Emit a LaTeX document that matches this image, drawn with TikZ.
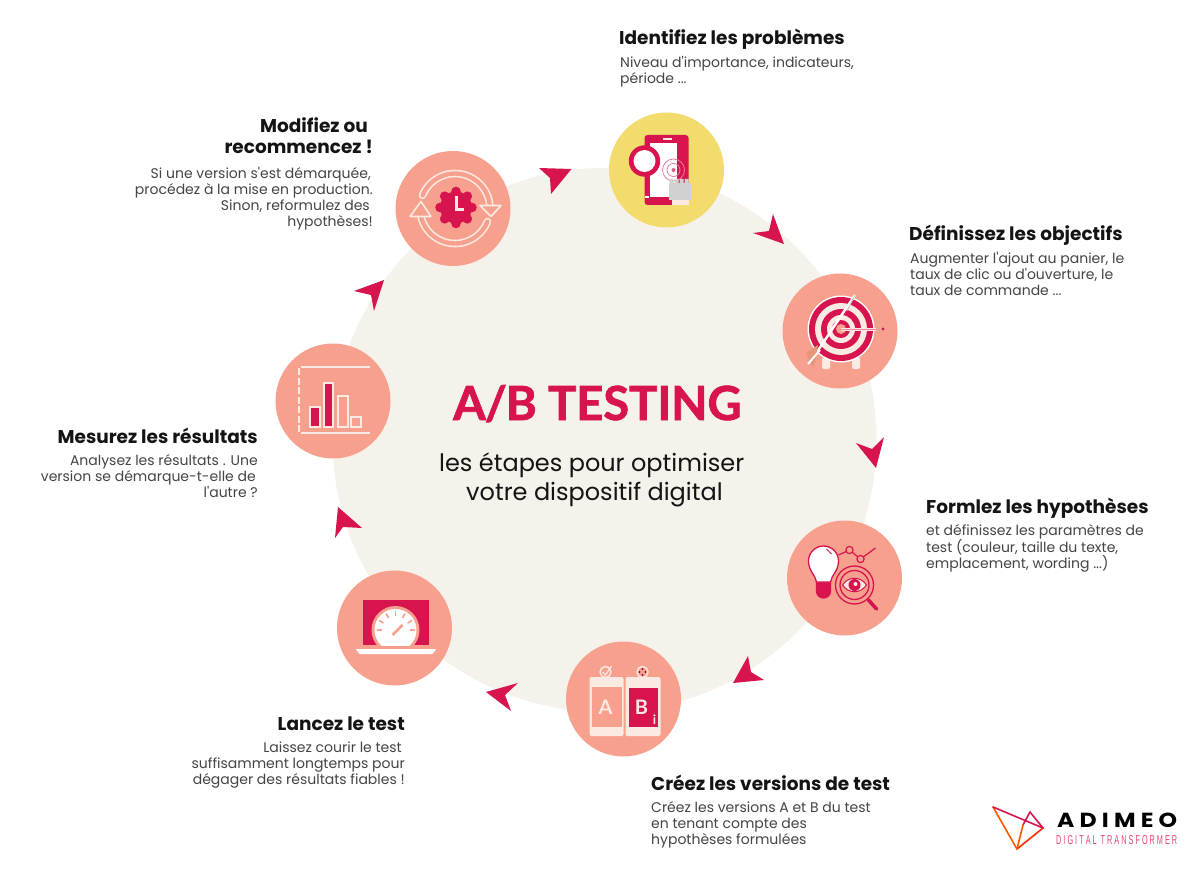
\documentclass[tikz,border=0pt]{standalone}
\usepackage{fontspec}
\setmainfont{Poppins}
\newfontfamily\latofont{Lato}[BoldFeatures={FakeBold=1.6}]
\newfontfamily\latoplain{Lato}
\newfontfamily\lsfont{Liberation Sans}
\definecolor{crim}{HTML}{D8144F}
\definecolor{salm}{HTML}{F8A08E}
\definecolor{yell}{HTML}{F2DC6E}
\definecolor{beig}{HTML}{F5F2EB}
\definecolor{pale}{HTML}{FBEAE2}
\definecolor{txt}{HTML}{444444}
\definecolor{ttl}{HTML}{141414}
\newcommand{\qs}{\textquotesingle}
\tikzset{
 stepdisc/.style={circle,minimum size=115pt,inner sep=0,fill=salm},
 headtext/.style={inner sep=0,font=\fontsize{18.5}{21}\bfseries\selectfont,text=ttl},
 bodytext/.style={inner sep=0,font=\fontsize{14}{16}\selectfont,text=txt},
 dart/.style={fill=crim,draw=none},
 ln/.style={line width=1.6pt,line cap=round,line join=round},
}
\begin{document}
\begin{tikzpicture}[x=1pt,y=-1pt]
\useasboundingbox (0,0) rectangle (1200,869);
\fill[white] (0,0) rectangle (1200,869);
\node[circle,minimum size=544pt,inner sep=0,fill=beig] (hub) at (604.5,440) {};
\node[stepdisc,fill=yell] (c1) at (666.5,170) {};
\node[stepdisc] (c2) at (840,331) {};
\node[stepdisc] (c3) at (844.5,578) {};
\node[stepdisc] (c4) at (623.5,699) {};
\node[stepdisc] (c5) at (394.5,628) {};
\node[stepdisc] (c6) at (333,401) {};
\node[stepdisc] (c7) at (453,208.5) {};
% darts
\fill[dart] (773,214) -- (784,244) -- (753,233) -- (769,231) -- cycle;
\fill[dart] (856,443) -- (872,449) -- (884,437) -- (876,468) -- cycle;
\fill[dart] (748,656) -- (751,672) -- (764,680) -- (733,683) -- cycle;
\fill[dart] (486,692) -- (518,683) -- (505,695) -- (511,711) -- cycle;
\fill[dart] (338,507) -- (362,528) -- (343,527) -- (335,538) -- cycle;
\fill[dart] (354,291) -- (384,280) -- (374,311) -- (371,295) -- cycle;
\fill[dart] (539,168) -- (571.5,169) -- (551,194) -- (550,178) -- cycle;
% icon 1
\begin{scope}[shift={(c1.center)}]
\fill[crim,rounded corners=3pt] (-22,-35) rectangle (22,35);
\fill[white] (-17,-27) rectangle (10,27);
\fill[pale] (-4,-32) rectangle (5,-30);
\fill[white] (-22,26) rectangle (-18,28);
\fill[pale] (5,30) rectangle (22,35);
\draw[crim!55,line width=.8pt] (7,0) circle[radius=11];
\draw[crim!55,line width=.8pt] (7,0) circle[radius=6.5];
\fill[crim!70] (7,0) circle[radius=2];
\fill[crim] (-22,-9) circle[radius=15.7];
\fill[white] (-22,-9) circle[radius=11];
\fill[black!18] (2,13) rectangle (24,30);
\fill[black!18] (3,9) rectangle (7,13) (8,9) rectangle (12,13) (13,9) rectangle (17,13) (18,9) rectangle (22,13);
\end{scope}
% icon 2
\begin{scope}[shift={(c2.center)}]
\fill[pale,rounded corners=2pt] (-18,26) rectangle (-10,38);
\fill[pale,rounded corners=2pt] (12,26) rectangle (20,38);
\fill[white] (1,-2) circle[radius=33.5];
\fill[crim] (1,-2) circle[radius=32];
\fill[pale] (1,-2) circle[radius=26];
\fill[crim] (1,-2) circle[radius=20];
\fill[pale] (1,-2) circle[radius=14];
\fill[crim] (1,-2) circle[radius=9];
\fill[salm] (1,-2) circle[radius=5];
\draw[white,line width=2.4pt] (-27,27) -- (15,-36);
\draw[black!25,line width=.8pt] (7,-20) -- (15,-36);
\fill[salm!70!brown] (-34,22) -- (-22,14) -- (-24,27) -- (-27,36) -- (-32,27) -- cycle;
\draw[white,line width=2pt] (-32,33) -- (-20,19);
\draw[pale,line width=3pt] (1,-2) -- (36,-2);
\draw[crim!50,line width=1pt] (1,-2) -- (36,-2);
\fill[crim] (43,-2) circle[radius=1.6];
\end{scope}
% icon 3
\begin{scope}[shift={(c3.center)}]
\draw[crim,line width=1.3pt,fill=crim] (-28,3) -- (-14,3) -- (-14,13) arc[start angle=0,end angle=180,radius=7] -- cycle;
\draw[crim,line width=1.3pt,fill=white] (-28,4) .. controls (-29,-3) and (-36,-7) .. (-36,-17) arc[start angle=180,end angle=360,radius=15] .. controls (-6,-7) and (-13,-3) .. (-14,4) -- cycle;
\draw[crim,line width=1pt] (-18,-29) -- (-13,-24);
\draw[crim,line width=1.2pt] (-6,-23) -- (5,-28) -- (16,-19) -- (31,-30);
\foreach \p in {(5,-28),(16,-19)} \filldraw[crim,fill=salm,line width=1.2pt] \p circle[radius=3.6];
\draw[crim,line width=3.6pt,line cap=round] (24,22) -- (32,31);
\draw[crim,line width=1.3pt] (10,7) circle[radius=19];
\draw[crim,line width=1.3pt] (10,7) circle[radius=14.5];
\fill[pale] (-2,7) .. controls (4,-2) and (16,-2) .. (22,7) .. controls (16,16) and (4,16) .. (-2,7) -- cycle;
\draw[crim,line width=1pt] (-2,7) .. controls (4,-2) and (16,-2) .. (22,7) .. controls (16,16) and (4,16) .. (-2,7) -- cycle;
\fill[crim] (10,7) circle[radius=6];
\fill[pale] (11,6) circle[radius=2];
\end{scope}
% icon 4
\begin{scope}[shift={(c4.center)}]
\fill[pale,rounded corners=2pt] (-34,-22) rectangle (0,37);
\fill[salm] (-32,-12) rectangle (-2,28);
\fill[pale,rounded corners=2pt] (2,-22) rectangle (37,37);
\fill[crim] (5,-11) rectangle (34,28);
\node[text=pale,font=\latoplain\bfseries\fontsize{20}{20}\selectfont,inner sep=0] (la) at (-18,8) {A};
\node[text=pale,font=\latoplain\bfseries\fontsize{20}{20}\selectfont,inner sep=0] (lb) at (18,8) {B};
\node[text=pale,font=\latoplain\bfseries\fontsize{13}{13}\selectfont,inner sep=0] (li) at (31,21) {i};
\draw[pale,line width=1.4pt] (-18,-27) circle[radius=5.5];
\draw[pale,line width=1.2pt] (-21,-27) -- (-18,-24) -- (-12,-33);
\draw[pale,line width=1.4pt] (19,-27) circle[radius=5.5];
\foreach \p in {(19,-30),(19,-24),(16,-27),(22,-27)} \fill[crim!70!black] \p circle[radius=1.1];
\end{scope}
% icon 5
\begin{scope}[shift={(c5.center)}]
\fill[crim] (-32,-28) rectangle (34,17);
\begin{scope}
\clip (-40,-30) rectangle (40,17);
\fill[salm] (1,2) circle[radius=24];
\fill[white] (1,2) circle[radius=21];
\foreach \a in {-150,-120,-90,-60,-30,-180,0} \draw[salm,line width=1.6pt] (\a:19) ++(1,2) -- ++(\a:-5);
\draw[salm,line width=2.6pt] (-2,7) -- (8,-3);
\end{scope}
\fill[white,rounded corners=1pt] (-39,21) -- (42,21) -- (38,26) -- (-35,26) -- cycle;
\end{scope}
% icon 6
\begin{scope}[shift={(c6.center)}]
\draw[pale,line width=1.6pt] (-32,-34) -- (37,-34);
\draw[pale,line width=1.6pt] (-32,32) -- (37,32);
\draw[pale,line width=2pt,dash pattern=on 7pt off 2.5pt] (-34,-33) -- (-34,31);
\filldraw[crim,draw=pale,line width=1.6pt] (-23,6) rectangle (-13,26);
\filldraw[crim,draw=pale,line width=1.6pt] (-9,-18) rectangle (0,26);
\draw[pale,line width=1.6pt] (5,-5) rectangle (15,26);
\draw[pale,line width=1.6pt] (18,16) rectangle (28,26);
\end{scope}
% icon 7
\begin{scope}[shift={(c7.center)}]
\draw[pale,line width=1.6pt,double=salm,double distance=4.4pt,line cap=round] (2,0) ++(202:35) arc[start angle=202,end angle=355,radius=35];
\draw[pale,line width=1.6pt,double=salm,double distance=4.4pt,line cap=round] (2,0) ++(22:35) arc[start angle=22,end angle=170,radius=35];
\filldraw[salm,draw=pale,line width=1.6pt,line join=round] (27,-3) -- (48,-3) -- (38,8) -- cycle;
\filldraw[salm,draw=pale,line width=1.6pt,line join=round] (-43,8) -- (-22,8) -- (-32,-7) -- cycle;
\fill[crim] (3,-1) circle[radius=16];
\foreach \a in {0,45,...,315} \fill[crim] (3,-1) ++(\a:16) circle[radius=4.8];
\draw[pale,line width=3pt] (3,-12) -- (3,1) -- (11,1);
\end{scope}
% centre text
\node[inner sep=0,anchor=base west,text=crim,font=\latofont\bfseries\fontsize{47}{50}\selectfont] (ttl) at (453,420) {A\kern-1pt/\kern-1pt B TESTING};
\node[inner sep=0,anchor=base west,text=ttl,font=\fontsize{24}{29}\selectfont] (s1) at (439,471) {les étapes pour optimiser};
\node[inner sep=0,anchor=base west,text=ttl,font=\fontsize{24}{29}\selectfont] (s2) at (466,500) {votre dispositif digital};
% step labels
\node[headtext,anchor=base west] (h1) at (619,45) {Identifiez les problèmes};
\node[bodytext,anchor=north west,align=left] (b1) at (620,56) {Niveau d\qs importance, indicateurs,\\période ...};
\node[headtext,anchor=base west] (h2) at (909,241) {Définissez les objectifs};
\node[bodytext,anchor=north west,align=left] (b2) at (910,252) {Augmenter l\qs ajout au panier, le\\taux de clic ou d\qs ouverture, le\\taux de commande ...};
\node[headtext,anchor=base west] (h3) at (926,513) {Formlez les hypothèses};
\node[bodytext,anchor=north west,align=left] (b3) at (926,524) {et définissez les paramètres de\\test (couleur, taille du texte,\\emplacement, wording ...)};
\node[headtext,anchor=base west] (h4) at (651,790) {Créez les versions de test};
\node[bodytext,anchor=north west,align=left] (b4) at (651,801) {Créez les versions A et B du test\\en tenant compte des\\hypothèses formulées};
\node[headtext,anchor=base east] (h5) at (405,730) {Lancez le test};
\node[bodytext,anchor=north east,align=right] (b5) at (405,742) {Laissez courir le test\kern3pt\\suffisamment longtemps pour\\dégager des résultats fiables !};
\node[headtext,anchor=base east] (h6) at (258,443) {Mesurez les résultats};
\node[bodytext,anchor=north east,align=right] (b6) at (258,454) {Analysez les résultats . Une\\version se démarque-t-elle de\kern2pt\\l\qs autre ?};
\node[headtext,anchor=north east,align=right] (h7) at (373,117) {Modifiez ou\kern5pt\\recommencez !};
\node[bodytext,anchor=north east,align=right] (b7) at (373,167) {Si une version s\qs est démarquée,\kern2pt\\procédez à la mise en production.\\Sinon, reformulez des\kern3pt\\hypothèses!};
% logo
\coordinate (la1) at (993,807);
\coordinate (la2) at (1017,849);
\coordinate (la3) at (1043,828);
\coordinate (la4) at (1030,812);
\coordinate (la5) at (1023,825);
\draw[ln,color=orange!70!red] (la1) -- (la2);
\draw[ln,color=red!65!orange] (la2) -- (la3);
\draw[ln,color=crim] (la1) -- (la3);
\draw[ln,color=crim] (la3) -- (la4) -- (la5);
\draw[ln,color=orange!70!red] (la5) -- (la2);
\node[inner sep=0,anchor=base west,text=black] (ad) at (1057,827.5) {\resizebox{120pt}{14.5pt}{\bfseries A\kern.22em D\kern.22em I\kern.22em M\kern.22em E\kern.22em O}};
\node[inner sep=0,anchor=base west,text=crim!70!pink] (dt) at (1056,844) {\resizebox{121pt}{9pt}{\lsfont D I G I T A L\ \ T R A N S F O R M E R}};
\end{tikzpicture}
\end{document}
